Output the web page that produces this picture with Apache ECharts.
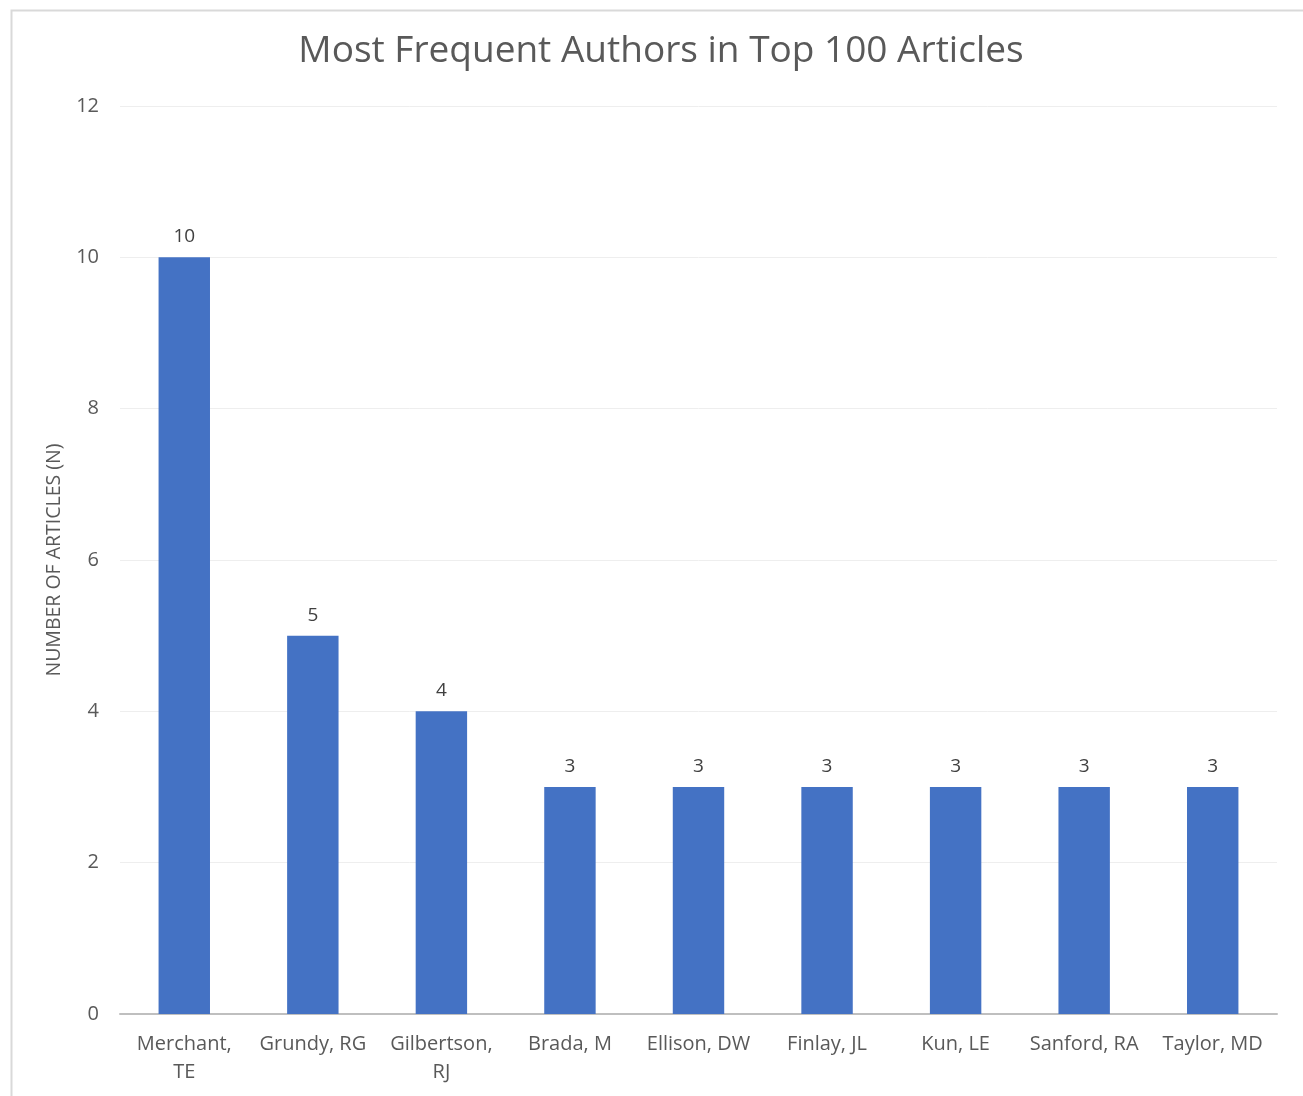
<!DOCTYPE html>
<html>
<head>
<meta charset="utf-8">
<script src="https://cdn.jsdelivr.net/npm/echarts@6/dist/echarts.min.js"></script>
<style>
html,body{margin:0;padding:0;background:#fff;}
#chart{width:1303px;height:1096px;}
</style>
</head>
<body>
<div id="chart"></div>
<script>
const titleText = 'Most Frequent Authors in Top 100 Articles';
const yAxisName = 'NUMBER OF ARTICLES (N)';
const authors = ['Merchant,\nTE', 'Grundy, RG', 'Gilbertson,\nRJ', 'Brada, M', 'Ellison, DW', 'Finlay, JL', 'Kun, LE', 'Sanford, RA', 'Taylor, MD'];
const articleCounts = [10, 5, 4, 3, 3, 3, 3, 3, 3];

const chart = echarts.init(document.getElementById('chart'), null, {renderer: 'canvas'});
const font = "'Open Sans', 'Noto Sans', sans-serif";
chart.setOption({
  animation: false,
  backgroundColor: '#ffffff',
  graphic: [{
    type: 'rect',
    left: 9, top: 8,
    shape: {width: 1320, height: 1120},
    style: {fill: 'none', stroke: '#d9d9d9', lineWidth: 2},
    silent: true
  }],
  title: {
    text: titleText,
    left: 656, top: 28,
    textAlign: 'center',
    textStyle: {fontFamily: font, fontSize: 37, fontWeight: 'normal', color: '#595959'}
  },
  grid: {left: 120, right: 26, top: 106, bottom: 82, containLabel: false},
  xAxis: {
    type: 'category',
    data: authors,
    axisLine: {lineStyle: {color: '#bfbfbf', width: 2}},
    axisTick: {show: false},
    axisLabel: {fontFamily: font, fontSize: 20, color: '#595959', margin: 16, lineHeight: 28, interval: 0}
  },
  yAxis: {
    type: 'value',
    min: 0, max: 12, interval: 2,
    name: yAxisName,
    nameLocation: 'middle',
    nameGap: 56,
    nameTextStyle: {fontFamily: font, fontSize: 19.5, color: '#595959'},
    axisLine: {show: false},
    axisTick: {show: false},
    splitLine: {lineStyle: {color: '#eeeeee', width: 1}},
    axisLabel: {fontFamily: font, fontSize: 20, color: '#595959', margin: 21}
  },
  series: [{
    type: 'bar',
    data: articleCounts,
    barWidth: '40%',
    itemStyle: {color: '#4472C4'},
    label: {show: true, position: 'top', distance: 11, fontFamily: font, fontSize: 19, color: '#404040'}
  }]
});
</script>
</body>
</html>
